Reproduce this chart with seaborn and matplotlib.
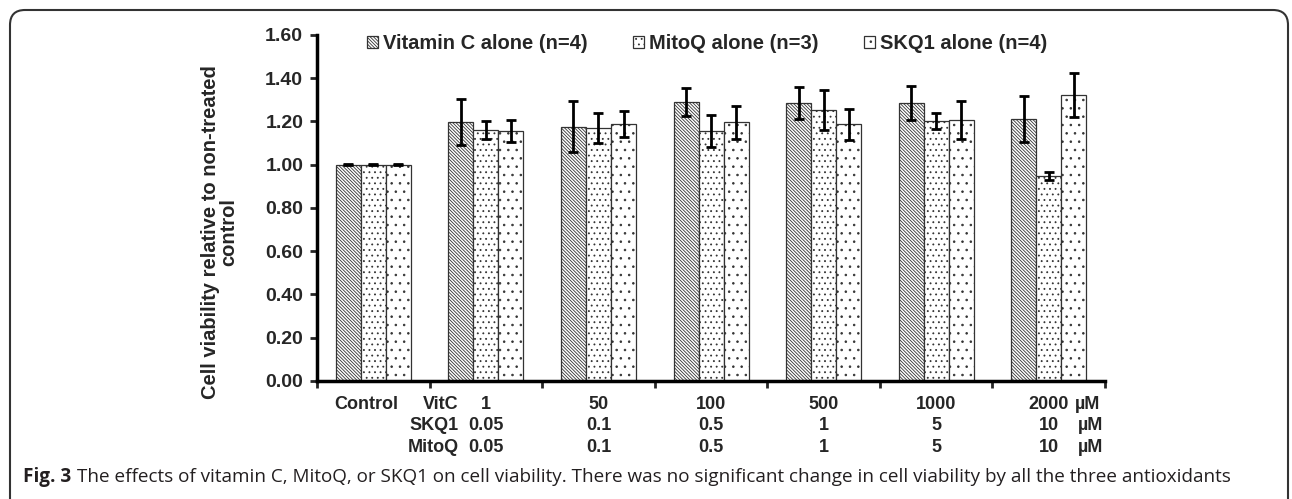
import numpy as np
import pandas as pd
import matplotlib
matplotlib.use('Agg')
import matplotlib.pyplot as plt
import matplotlib.transforms as mtransforms
from matplotlib.patches import FancyBboxPatch
import seaborn as sns

# Values
groups = ['Control', '1', '50', '100', '500', '1000', '2000']
series = ['Vitamin C alone (n=4)', 'MitoQ alone (n=3)', 'SKQ1 alone (n=4)']

vitc = [1.00, 1.196, 1.176, 1.292, 1.284, 1.284, 1.212]
vitc_err = [0.003, 0.106, 0.118, 0.065, 0.074, 0.078, 0.105]
mitoq = [1.00, 1.161, 1.171, 1.156, 1.253, 1.202, 0.948]
mitoq_err = [0.003, 0.043, 0.070, 0.073, 0.092, 0.038, 0.020]
skq1 = [1.00, 1.156, 1.187, 1.196, 1.187, 1.207, 1.323]
skq1_err = [0.003, 0.050, 0.060, 0.077, 0.072, 0.090, 0.100]

# dose rows under the axis
vitc_dose = ['Control', '1', '50', '100', '500', '1000', '2000']
skq1_dose = ['', '0.05', '0.1', '0.5', '1', '5', '10']
mitoq_dose = ['', '0.05', '0.1', '0.5', '1', '5', '10']
row_names = ['VitC', 'SKQ1', 'MitoQ']

caption_bold = 'Fig. 3'
caption_text = ('The effects of vitamin C, MitoQ, or SKQ1 on cell viability. '
                'There was no significant change in cell viability by all the three antioxidants')

df = pd.DataFrame({
    'group': groups * 3,
    'series': [s for s in series for _ in groups],
    'value': vitc + mitoq + skq1,
})
errs = [vitc_err, mitoq_err, skq1_err]

sns.set_style('white')
plt.rcParams['font.family'] = ['Liberation Sans', 'DejaVu Sans']
plt.rcParams['hatch.linewidth'] = 0.6

fig = plt.figure(figsize=(12.92, 4.99), dpi=100)
ax = fig.add_axes([0.2454, 0.2365, 0.6099, 0.6934])

sns.barplot(data=df, x='group', y='value', hue='series', order=groups,
            hue_order=series, palette=['white'] * 3, errorbar=None,
            width=0.667, gap=0, edgecolor='#333333', linewidth=0.9,
            legend=False, ax=ax)

hatches = ['\\' * 10, '...', '..']
for cont, h, e in zip(ax.containers, hatches, errs):
    xs = []
    ys = []
    for bar in cont:
        bar.set_hatch(h)
        xs.append(bar.get_x() + bar.get_width() / 2)
        ys.append(bar.get_height())
    ax.errorbar(xs, ys, yerr=e, fmt='none', ecolor='black', elinewidth=2,
                capsize=3.5, capthick=2, zorder=5)

ax.set_xlim(-0.5, 6.5)
ax.set_ylim(0, 1.6)
ax.set_yticks(np.arange(0, 1.61, 0.2))
ax.set_yticklabels(['%.2f' % v for v in np.arange(0, 1.61, 0.2)],
                   fontsize=14, fontweight='bold')
ax.set_xticks([])
ax.set_xticks(np.arange(-0.5, 6.6, 1), minor=True)
ax.tick_params(axis='y', direction='out', length=5, width=2, left=True, pad=5)
ax.tick_params(axis='x', which='minor', direction='out', length=5, width=2, bottom=True)
for s in ['top', 'right']:
    ax.spines[s].set_visible(False)
for s in ['left', 'bottom']:
    ax.spines[s].set_linewidth(2.5)
    ax.spines[s].set_color('black')

ax.set_xlabel('')
ax.set_ylabel('Cell viability relative to non-treated\ncontrol',
              fontsize=14.5, fontweight='bold', linespacing=0.95)
ax.yaxis.set_label_coords(-0.100, 0.43)

# dose labels below the axis
trans = mtransforms.blended_transform_factory(ax.transData, ax.transAxes)
row_y = [-0.069, -0.130, -0.191]
for row, labels in enumerate([vitc_dose, skq1_dose, mitoq_dose]):
    for i, lab in enumerate(labels):
        xpos = i - 0.06 if lab == 'Control' else i
        ax.text(xpos, row_y[row], lab, transform=trans, ha='center', va='center',
                fontsize=13, fontweight='bold', clip_on=False)
    ax.text(0.76, row_y[row], row_names[row], transform=trans, ha='right',
            va='center', fontsize=13, fontweight='bold')
    ax.text(6.23 if row == 0 else 6.26, row_y[row], 'µM', transform=trans,
            ha='left', va='center', fontsize=13, fontweight='bold')

# legend
handles = [c[0] for c in ax.containers]
ax.legend(handles, series, loc='center', bbox_to_anchor=(0.495, 0.974),
          ncol=3, frameon=False, prop={'size': 14.5, 'weight': 'bold'},
          handlelength=0.55, handleheight=0.55, handletextpad=0.25,
          columnspacing=2.25, borderaxespad=0)

# caption
t1 = fig.text(23 / 1292, 1 - 477 / 499, caption_bold, fontsize=13.6,
              fontweight='bold', family=['Open Sans', 'DejaVu Sans'],
              color='#231f20', ha='left', va='center')
ax.annotate(caption_text, xy=(1, 0.5), xycoords=t1, xytext=(4, 0),
            textcoords='offset points', fontsize=13.6,
            family=['Open Sans', 'DejaVu Sans'], color='#231f20',
            ha='left', va='center', annotation_clip=False)

# rounded frame around the figure panel
frame = FancyBboxPatch((0.1, -0.3), 12.78, 5.19,
                       boxstyle='round,pad=0,rounding_size=0.15',
                       transform=fig.dpi_scale_trans, fill=False,
                       edgecolor='#333333', linewidth=1.5)
fig.add_artist(frame)

fig.savefig('out.png', dpi=100)
